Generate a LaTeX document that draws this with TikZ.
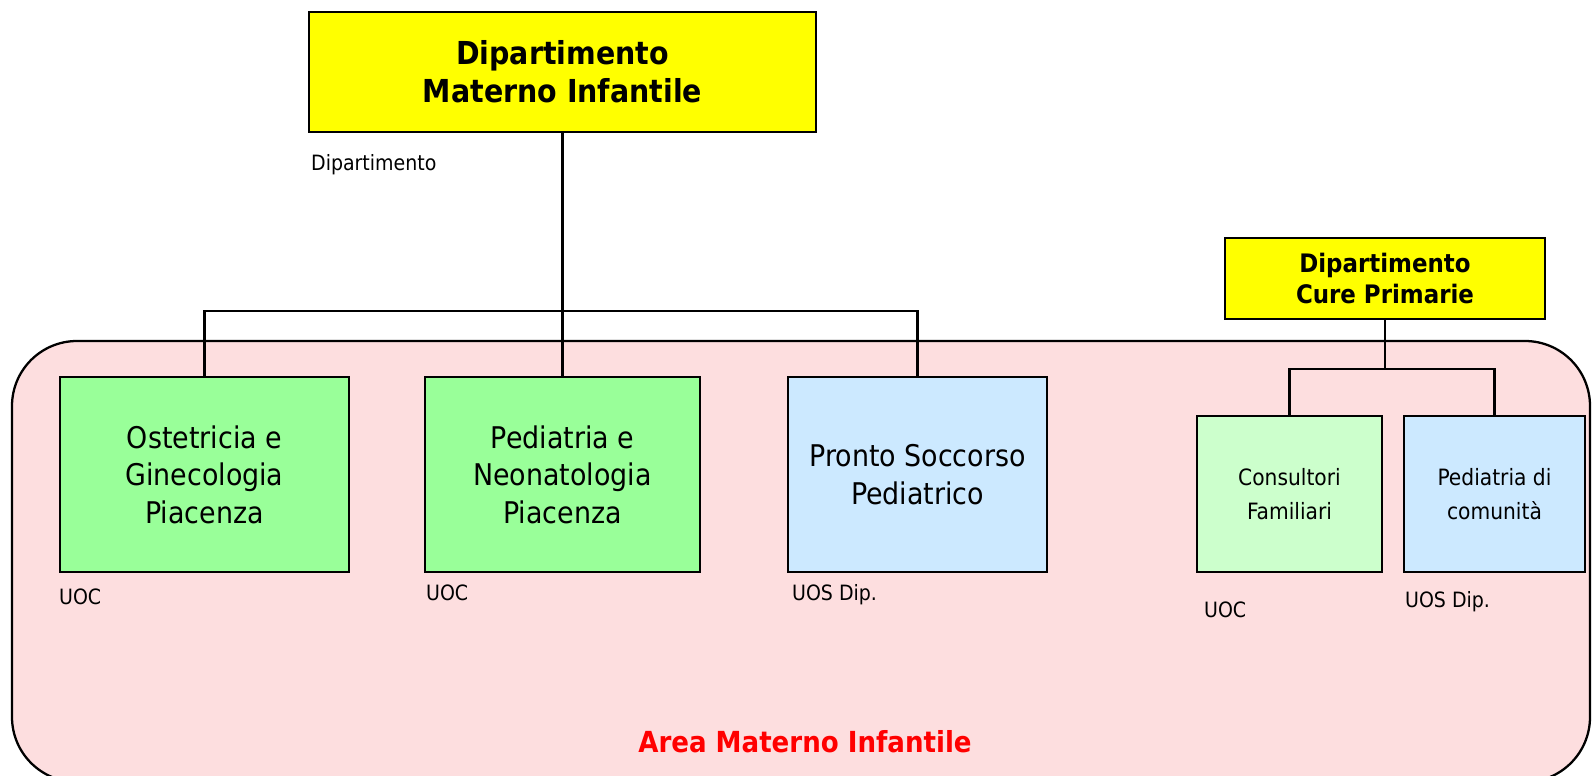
\documentclass[tikz,border=0pt]{standalone}
\usepackage{fontspec}
\setmainfont{DejaVu Sans Condensed}
\usepackage{tikz}
\usetikzlibrary{positioning, calc}
\definecolor{deptyellow}{HTML}{FFFF00}
\definecolor{uocgreen}{HTML}{99FF99}
\definecolor{uosblue}{HTML}{CCE9FF}
\definecolor{palegreen}{HTML}{CCFFCC}
\definecolor{areapink}{HTML}{FDDEDF}
\definecolor{areared}{HTML}{FF0000}

\begin{document}
\begin{tikzpicture}[x=0.02cm, y=-0.02cm, line width=1.3pt,
    unit/.style={rectangle, draw=black, line width=1.3pt, align=center, inner sep=0pt},
    dept/.style={unit, fill=deptyellow, font=\bfseries\fontsize{18}{21.5}\selectfont},
    bigunit/.style={unit, minimum height=3.9cm, font=\fontsize{17}{21.3}\selectfont},
    smallunit/.style={unit, minimum height=3.12cm, font=\fontsize{12.8}{19}\selectfont},
    tag/.style={anchor=west, inner sep=0pt, font=\fontsize{12}{14}\selectfont}]

    \useasboundingbox (0,0) rectangle (1593,775);

    % area background
    \draw[fill=areapink, line width=1.3pt, rounded corners=1.3cm] (12,341) rectangle (1590,782);
    \node (area) [font=\bfseries\fontsize{16.5}{19}\selectfont, text=areared] at (805,742) {Area Materno Infantile};

    \node (dmi) [dept, minimum width=10.14cm, minimum height=2.4cm] at (562.5,72)
      {Dipartimento\\Materno Infantile};
    \node (dmitag) [tag] at (310,165) {Dipartimento};

    \node (ost) [bigunit, fill=uocgreen, minimum width=5.78cm] at (204.5,474.5)
      {Ostetricia e\\Ginecologia\\Piacenza};
    \node (ped) [bigunit, fill=uocgreen, minimum width=5.5cm] at (562.5,474.5)
      {Pediatria e\\Neonatologia\\Piacenza};
    \node (ps) [bigunit, fill=uosblue, minimum width=5.18cm] at (917.5,474.5)
      {Pronto Soccorso\\Pediatrico};
    \node (osttag) [tag] at (58,597) {UOC};
    \node (pedtag) [tag] at (425,593) {UOC};
    \node (pstag) [tag] at (791,595) {UOS Dip.};

    \node (dcp) [dept, font=\bfseries\fontsize{14.5}{17.5}\selectfont, minimum width=6.4cm, minimum height=1.62cm] at (1385,278.5)
      {Dipartimento\\Cure Primarie};
    \node (cons) [smallunit, fill=palegreen, minimum width=3.7cm] at (1289.5,494)
      {Consultori\\Familiari};
    \node (pcom) [smallunit, fill=uosblue, minimum width=3.62cm] at (1494.5,494)
      {Pediatria di\\comunità};
    \node (constag) [tag] at (1203,610) {UOC};
    \node (pcomtag) [tag] at (1404,602) {UOS Dip.};

    % connectors
    \draw (dmi.south) -- (ped.north);
    \draw (ost.north) -- ++(0,-65) -| (ps.north);
    \draw (dcp.south) -- ++(0,49) coordinate (cpbus);
    \draw (cons.north) |- (cpbus) -| (pcom.north);
\end{tikzpicture}
\end{document}
